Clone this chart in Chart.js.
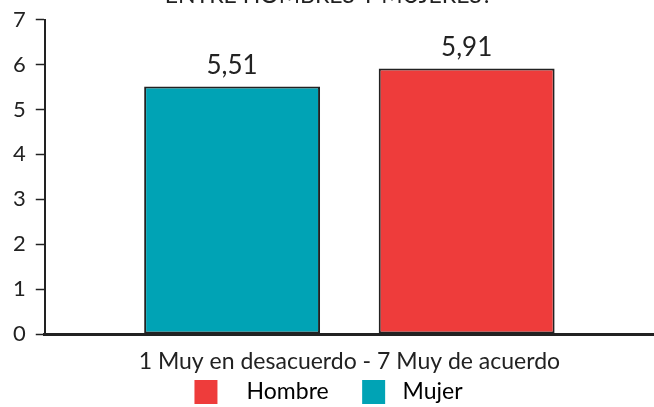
<!DOCTYPE html>
<html>
<head>
<meta charset="utf-8">
<script src="https://cdn.jsdelivr.net/npm/chart.js@4"></script>
<style>
  html, body { margin: 0; padding: 0; background: #fff; }
  #frame { position: relative; width: 654px; height: 407px; overflow: hidden; }
  #wrap { position: absolute; left: 0; top: -18px; width: 654px; height: 432px; }
</style>
</head>
<body>
<div id="frame"><div id="wrap"><canvas id="grafico"></canvas></div></div>
<script>
// datos del grafico
const categorias = ['1 Muy en desacuerdo - 7 Muy de acuerdo'];
const seriesNombres = ['Mujer', 'Hombre'];
const valoresMujer = [5.51];
const valoresHombre = [5.91];
const ticksY = [0, 1, 2, 3, 4, 5, 6, 7];
const titulo = 'ENTRE HOMBRES Y MUJERES?';

const FUENTE = 'Lato, "Noto Sans", sans-serif';
const TEXTO = '#222';

// etiquetas de valor sobre cada barra (con coma decimal)
const etiquetasValor = {
    id: 'etiquetasValor',
    afterDatasetsDraw(chart) {
        const ctx = chart.ctx;
        ctx.save();
        ctx.font = '26px ' + FUENTE;
        ctx.fillStyle = TEXTO;
        ctx.textAlign = 'center';
        ctx.textBaseline = 'alphabetic';
        chart.data.datasets.forEach((ds, i) => {
            chart.getDatasetMeta(i).data.forEach((bar, j) => {
                const v = ds.data[j];
                if (v == null) return;
                ctx.fillText(v.toFixed(2).replace('.', ','), bar.x, bar.y - 13);
            });
        });
        ctx.restore();
    }
};

const ctx = document.getElementById('grafico').getContext('2d');
new Chart(ctx, {
    type: 'bar',
    data: {
        labels: categorias,
        datasets: [{
            label: seriesNombres[0],
            data: valoresMujer,
            backgroundColor: '#00a3b5',
            borderColor: '#222',
            borderWidth: 2,
            borderSkipped: false
        }, {
            label: seriesNombres[1],
            data: valoresHombre,
            backgroundColor: '#ee3c3b',
            borderColor: '#222',
            borderWidth: 2,
            borderSkipped: false
        }]
    },
    options: {
        responsive: true,
        maintainAspectRatio: false,
        animation: false,
        categoryPercentage: 0.77,
        barPercentage: 0.75,
        layout: { padding: { left: 3, right: 0, top: 0, bottom: 0 } },
        plugins: {
            title: {
                display: true,
                text: titulo,
                color: TEXTO,
                font: { family: FUENTE, size: 23, weight: 'normal' },
                padding: { top: 0, bottom: 10 }
            },
            legend: {
                position: 'bottom',
                reverse: true,
                labels: {
                    color: TEXTO,
                    font: { family: FUENTE, size: 23 },
                    boxWidth: 23,
                    boxHeight: 24,
                    padding: 4,
                    generateLabels(chart) {
                        return chart.data.datasets.map((ds, i) => ({
                            // Hombre va primero (reverse): mas espacio antes y despues
                            text: i === 0 ? ' ' + ds.label : '   ' + ds.label + '     ',
                            fillStyle: ds.backgroundColor,
                            strokeStyle: ds.backgroundColor,
                            lineWidth: 0,
                            datasetIndex: i
                        }));
                    }
                }
            },
            tooltip: { enabled: false }
        },
        scales: {
            x: {
                afterFit(scale) {
                    scale.height = 42;
                },
                grid: { display: false, drawTicks: false },
                border: { color: '#222', width: 3 },
                ticks: {
                    color: TEXTO,
                    font: { family: FUENTE, size: 23 },
                    padding: 14
                }
            },
            y: {
                min: ticksY[0],
                max: ticksY[ticksY.length - 1],
                afterBuildTicks(axis) {
                    axis.ticks = ticksY.map(v => ({ value: v }));
                },
                grid: {
                    drawOnChartArea: false,
                    drawTicks: true,
                    tickLength: 9,
                    tickWidth: 1.5,
                    tickColor: '#222'
                },
                border: { color: '#222', width: 2 },
                ticks: {
                    color: TEXTO,
                    font: { family: FUENTE, size: 22 },
                    padding: 10
                }
            }
        }
    },
    plugins: [etiquetasValor]
});
</script>
</body>
</html>
